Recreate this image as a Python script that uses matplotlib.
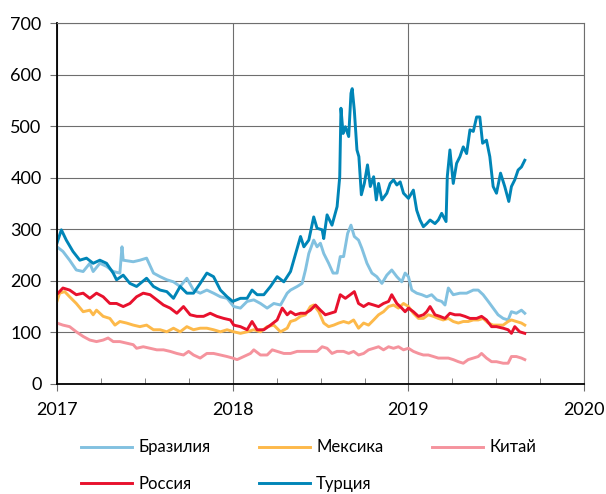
import matplotlib
matplotlib.use("Agg")
import matplotlib.pyplot as plt
from matplotlib.ticker import MultipleLocator

plt.rcParams['font.family'] = ['Lato', 'DejaVu Sans']

# CDS spreads, decimal year -> value
tur_t = [2017.000, 2017.025, 2017.053, 2017.091, 2017.130, 2017.168, 2017.206, 2017.244, 2017.282,
         2017.320, 2017.339, 2017.377, 2017.415, 2017.453, 2017.510, 2017.549, 2017.587, 2017.625,
         2017.663, 2017.701, 2017.739, 2017.777, 2017.815, 2017.853, 2017.891, 2017.930, 2017.968,
         2018.000, 2018.044, 2018.082, 2018.110, 2018.139, 2018.177, 2018.215, 2018.253, 2018.291,
         2018.329, 2018.386, 2018.405, 2018.433, 2018.461, 2018.480, 2018.509, 2018.518, 2018.537,
         2018.565, 2018.594, 2018.609, 2018.616, 2018.628, 2018.641, 2018.660, 2018.673, 2018.680,
         2018.692, 2018.707, 2018.718, 2018.732, 2018.749, 2018.767, 2018.783, 2018.802, 2018.817,
         2018.830, 2018.849, 2018.877, 2018.896, 2018.915, 2018.934, 2018.953, 2018.972, 2019.000,
         2019.028, 2019.047, 2019.066, 2019.085, 2019.104, 2019.123, 2019.151, 2019.170, 2019.189,
         2019.214, 2019.221, 2019.236, 2019.255, 2019.274, 2019.293, 2019.312, 2019.331, 2019.350,
         2019.369, 2019.388, 2019.406, 2019.422, 2019.444, 2019.463, 2019.482, 2019.501, 2019.524,
         2019.548, 2019.571, 2019.586, 2019.605, 2019.624, 2019.643, 2019.662]
tur_v = [273, 299, 279, 257, 240, 244, 234, 240, 234,
         215, 202, 211, 195, 189, 205, 189, 182, 179,
         166, 189, 176, 176, 195, 215, 208, 182, 169,
         160, 166, 166, 182, 173, 173, 189, 208, 198,
         218, 286, 266, 279, 324, 302, 299, 282, 328,
         308, 344, 402, 535, 486, 499, 480, 564, 573,
         531, 454, 441, 367, 389, 425, 383, 402, 357,
         389, 357, 370, 389, 396, 386, 392, 370, 360,
         376, 337, 318, 305, 311, 318, 311, 318, 331,
         315, 402, 454, 389, 428, 441, 460, 447, 493,
         490, 518, 518, 467, 473, 441, 383, 370, 409,
         383, 354, 383, 396, 415, 421, 434]

bra_t = [2017.000, 2017.034, 2017.072, 2017.110, 2017.149, 2017.187, 2017.206, 2017.244, 2017.282,
         2017.320, 2017.358, 2017.370, 2017.377, 2017.434, 2017.472, 2017.510, 2017.549, 2017.587,
         2017.625, 2017.663, 2017.701, 2017.739, 2017.777, 2017.815, 2017.853, 2017.891, 2017.930,
         2017.968, 2018.006, 2018.044, 2018.082, 2018.120, 2018.158, 2018.196, 2018.234, 2018.272,
         2018.310, 2018.329, 2018.367, 2018.395, 2018.414, 2018.433, 2018.461, 2018.480, 2018.499,
         2018.518, 2018.546, 2018.571, 2018.594, 2018.612, 2018.631, 2018.654, 2018.673, 2018.692,
         2018.716, 2018.735, 2018.764, 2018.792, 2018.820, 2018.849, 2018.877, 2018.905, 2018.934,
         2018.962, 2018.981, 2019.000, 2019.019, 2019.047, 2019.076, 2019.104, 2019.132, 2019.161,
         2019.189, 2019.208, 2019.227, 2019.255, 2019.293, 2019.331, 2019.369, 2019.397, 2019.425,
         2019.454, 2019.482, 2019.510, 2019.539, 2019.567, 2019.586, 2019.614, 2019.643, 2019.662]
bra_v = [266, 257, 240, 221, 218, 234, 218, 234, 228,
         218, 215, 266, 240, 237, 240, 244, 215, 208,
         202, 198, 189, 205, 182, 176, 182, 176, 169,
         166, 150, 147, 160, 163, 156, 147, 156, 153,
         176, 182, 189, 195, 221, 253, 279, 266, 273,
         253, 234, 215, 215, 247, 247, 292, 308, 286,
         279, 263, 234, 215, 208, 195, 211, 221, 208,
         198, 215, 208, 182, 176, 173, 169, 173, 163,
         160, 153, 186, 173, 176, 176, 182, 182, 173,
         160, 147, 134, 127, 124, 140, 137, 143, 137]

rus_t = [2017.006, 2017.034, 2017.072, 2017.110, 2017.149, 2017.187, 2017.225, 2017.263, 2017.301,
         2017.339, 2017.377, 2017.415, 2017.453, 2017.491, 2017.530, 2017.568, 2017.606, 2017.644,
         2017.682, 2017.720, 2017.758, 2017.796, 2017.834, 2017.872, 2017.910, 2017.949, 2017.987,
         2018.006, 2018.044, 2018.082, 2018.110, 2018.139, 2018.177, 2018.215, 2018.253, 2018.282,
         2018.310, 2018.329, 2018.357, 2018.386, 2018.414, 2018.442, 2018.471, 2018.499, 2018.527,
         2018.556, 2018.584, 2018.612, 2018.641, 2018.669, 2018.692, 2018.716, 2018.745, 2018.773,
         2018.802, 2018.830, 2018.858, 2018.887, 2018.905, 2018.934, 2018.962, 2018.981, 2019.000,
         2019.028, 2019.057, 2019.085, 2019.104, 2019.123, 2019.151, 2019.179, 2019.208, 2019.236,
         2019.265, 2019.293, 2019.321, 2019.350, 2019.388, 2019.416, 2019.444, 2019.473, 2019.501,
         2019.539, 2019.567, 2019.586, 2019.605, 2019.633, 2019.662]
rus_v = [176, 186, 182, 173, 176, 166, 176, 169, 156,
         156, 150, 156, 169, 176, 173, 163, 153, 147,
         137, 150, 134, 131, 131, 137, 131, 127, 124,
         114, 111, 105, 121, 105, 105, 114, 124, 147,
         134, 140, 134, 137, 137, 143, 153, 143, 134,
         137, 140, 173, 166, 173, 179, 156, 150, 156,
         153, 150, 156, 160, 173, 156, 147, 140, 147,
         140, 131, 134, 140, 150, 134, 131, 127, 137,
         134, 134, 131, 127, 127, 131, 124, 111, 111,
         108, 105, 98, 111, 101, 98]

mex_t = [2017.000, 2017.015, 2017.044, 2017.072, 2017.110, 2017.149, 2017.187, 2017.206, 2017.225,
         2017.263, 2017.301, 2017.330, 2017.358, 2017.396, 2017.434, 2017.472, 2017.510, 2017.549,
         2017.587, 2017.625, 2017.663, 2017.701, 2017.739, 2017.777, 2017.815, 2017.853, 2017.891,
         2017.930, 2017.968, 2018.006, 2018.044, 2018.082, 2018.120, 2018.158, 2018.196, 2018.234,
         2018.272, 2018.310, 2018.329, 2018.357, 2018.386, 2018.414, 2018.442, 2018.461, 2018.490,
         2018.518, 2018.546, 2018.575, 2018.603, 2018.631, 2018.660, 2018.688, 2018.716, 2018.745,
         2018.773, 2018.802, 2018.830, 2018.858, 2018.887, 2018.915, 2018.943, 2018.972, 2019.000,
         2019.028, 2019.057, 2019.085, 2019.113, 2019.142, 2019.170, 2019.198, 2019.227, 2019.255,
         2019.284, 2019.312, 2019.340, 2019.369, 2019.397, 2019.425, 2019.454, 2019.482, 2019.510,
         2019.539, 2019.567, 2019.586, 2019.614, 2019.643, 2019.662]
mex_v = [160, 176, 179, 169, 156, 140, 143, 134, 143,
         131, 127, 114, 121, 118, 114, 111, 114, 105,
         105, 101, 108, 101, 111, 105, 108, 108, 105,
         101, 105, 101, 98, 101, 105, 101, 111, 114,
         101, 108, 121, 124, 131, 134, 150, 153, 140,
         118, 111, 114, 118, 121, 118, 124, 108, 118,
         114, 124, 134, 140, 150, 153, 147, 156, 150,
         137, 127, 127, 134, 131, 127, 124, 127, 121,
         118, 121, 121, 124, 124, 127, 118, 114, 114,
         114, 121, 124, 121, 118, 114]

chn_t = [2017.000, 2017.034, 2017.072, 2017.110, 2017.149, 2017.187, 2017.225, 2017.263, 2017.291,
         2017.320, 2017.358, 2017.396, 2017.434, 2017.453, 2017.491, 2017.530, 2017.568, 2017.606,
         2017.644, 2017.682, 2017.720, 2017.749, 2017.777, 2017.815, 2017.853, 2017.891, 2017.930,
         2017.968, 2018.000, 2018.025, 2018.063, 2018.101, 2018.120, 2018.158, 2018.196, 2018.225,
         2018.253, 2018.291, 2018.329, 2018.367, 2018.405, 2018.442, 2018.480, 2018.509, 2018.537,
         2018.565, 2018.594, 2018.631, 2018.660, 2018.688, 2018.716, 2018.745, 2018.773, 2018.802,
         2018.830, 2018.858, 2018.887, 2018.915, 2018.943, 2018.972, 2019.000, 2019.028, 2019.057,
         2019.085, 2019.113, 2019.142, 2019.170, 2019.198, 2019.227, 2019.255, 2019.284, 2019.312,
         2019.340, 2019.369, 2019.397, 2019.416, 2019.444, 2019.473, 2019.501, 2019.539, 2019.567,
         2019.586, 2019.614, 2019.643, 2019.662]
chn_v = [118, 114, 111, 101, 92, 85, 82, 85, 89,
         82, 82, 79, 76, 69, 72, 69, 66, 66,
         63, 59, 56, 63, 56, 50, 59, 59, 56,
         53, 50, 47, 53, 59, 66, 56, 56, 66,
         63, 59, 59, 63, 63, 63, 63, 72, 69,
         59, 63, 63, 59, 63, 56, 59, 66, 69,
         72, 66, 72, 69, 72, 66, 69, 63, 59,
         56, 56, 53, 50, 50, 50, 47, 43, 40,
         47, 50, 53, 59, 50, 43, 43, 40, 40,
         53, 53, 50, 47]

fig = plt.figure(figsize=(6.06, 4.94), dpi=100)
ax = fig.add_axes([0.094, 0.223, 0.870, 0.730])

lw = 2.1
l_bra, = ax.plot(bra_t, bra_v, color='#82c1e0', lw=lw, label='Бразилия')
l_mex, = ax.plot(mex_t, mex_v, color='#fdb94a', lw=lw, label='Мексика')
l_chn, = ax.plot(chn_t, chn_v, color='#f5939d', lw=lw, label='Китай')
l_rus, = ax.plot(rus_t, rus_v, color='#e8112d', lw=lw, label='Россия')
l_tur, = ax.plot(tur_t, tur_v, color='#0085b7', lw=lw, label='Турция')

ax.set_xlim(2017, 2020)
ax.set_ylim(0, 700)
ax.set_xticks([2017, 2018, 2019, 2020])
ax.xaxis.set_minor_locator(MultipleLocator(0.25))
ax.yaxis.set_major_locator(MultipleLocator(100))
ax.grid(True, which='major', color='#6e6e6e', lw=0.8)
ax.set_axisbelow(True)

for s in ['top', 'right']:
    ax.spines[s].set_color('#6e6e6e')
    ax.spines[s].set_linewidth(0.8)
for s in ['left', 'bottom']:
    ax.spines[s].set_color('black')
    ax.spines[s].set_linewidth(1.3)

ax.tick_params(axis='y', direction='out', length=5, color='#6e6e6e', labelsize=13, pad=6)
ax.tick_params(axis='x', which='major', direction='out', length=5, color='#6e6e6e', labelsize=13, pad=8)
ax.tick_params(axis='x', which='minor', direction='in', length=4, color='#6e6e6e')

# column-major order so rows read: Бразилия, Мексика, Китай / Россия, Турция
handles = [l_bra, l_rus, l_mex, l_tur, l_chn]
fig.legend(handles=handles, labels=[h.get_label() for h in handles],
           loc='upper left', bbox_to_anchor=(0.122, 0.124), ncol=3, frameon=False,
           fontsize=12, handlelength=3.1, handletextpad=0.35, columnspacing=2.9,
           labelspacing=1.25, borderaxespad=0)

fig.savefig('out.png', dpi=100)
